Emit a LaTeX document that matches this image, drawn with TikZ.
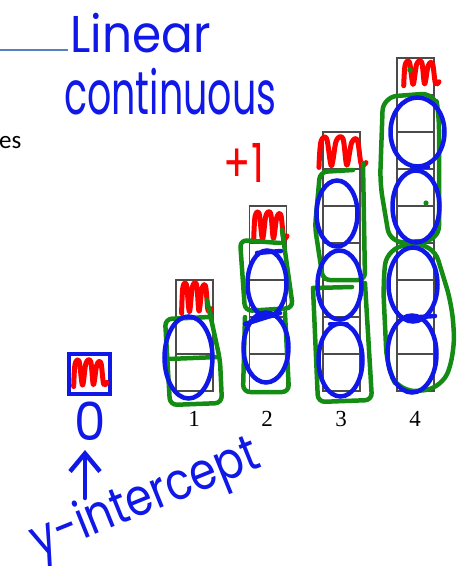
\documentclass[tikz,border=0pt]{standalone}
\usepackage{fontspec}
\setmainfont{Liberation Serif}
\newfontfamily\handfont{Poppins}
\newfontfamily\calibfont{Carlito}
\usetikzlibrary{arrows.meta}
\definecolor{blueink}{RGB}{16,24,232}
\definecolor{greenink}{RGB}{20,140,20}
\definecolor{redink}{RGB}{255,0,0}
\definecolor{rulecol}{RGB}{84,128,190}
\definecolor{cellcol}{RGB}{75,75,75}
\tikzset{
  cell/.style={draw=cellcol, line width=1.2pt},
  blueloop/.style={draw=blueink, line width=4.5pt},
  greenloop/.style={draw=greenink, line width=4.5pt, rounded corners=7pt, line cap=round, line join=round},
  hand/.style={text=blueink, font=\handfont, inner sep=0pt},
  num/.style={font=\fontsize{23}{23}\selectfont, inner sep=0pt},
  pics/scrib/.style={code={
    \draw[redink, line width=5pt, line cap=round, line join=round]
      plot[smooth, tension=0.55] coordinates {(0.02,0.95)(0.06,0.15)(0.18,0.05)(0.28,0.9)(0.38,0.12)(0.52,0.05)(0.6,0.88)(0.7,0.18)(0.82,0.1)(0.9,0.85)(1,0.8)};
  }}
}
\begin{document}
\begin{tikzpicture}[x=1pt,y=-1pt]
\useasboundingbox (0,0) rectangle (457,566);

% top rule and text
\coordinate (rl) at (0,50);
\coordinate (rr) at (68,50);
\draw[rulecol, line width=2pt] (rl) -- (rr);
\node[hand, anchor=base west, yscale=1.1, font=\handfont\fontsize{47}{47}\selectfont] (lin) at (70,52) {Linear};
\node[hand, anchor=base west, yscale=1.6, font=\handfont\fontsize{38}{38}\selectfont] (cont) at (64,114) {continuous};
\node[anchor=base west, inner sep=0pt, font=\calibfont\fontsize{25}{25}\selectfont] (es) at (-1,148) {es};

% cells
\foreach \k/\xl in {1/176,2/249.5,3/323,4/397}{
  \pgfmathtruncatemacro\n{2*\k+1}
  \foreach \i in {1,...,\n}{
    \draw[cell] (\xl,391-37*\i) rectangle ++(37,37);
  }
}
\node[num] (n1) at (194,419) {1};
\node[num] (n2) at (267,419) {2};
\node[num] (n3) at (341,419) {3};
\node[num] (n4) at (415,419) {4};

% red scribbles
\pic[xscale=30, yscale=32] at (181,283) {scrib};
\pic[xscale=34, yscale=30] at (253,212) {scrib};
\pic[xscale=48, yscale=32] at (318,137) {scrib};
\pic[xscale=36, yscale=26] at (403,61) {scrib};
\node[hand, text=redink, yscale=1.35, font=\handfont\fontsize{40}{40}\selectfont] (plus) at (244,163) {+1};

% green groupings
\draw[greenloop] (207,300) -- (220,360) -- (222,403) -- (170,405) -- (165,319) -- (210,317);
\draw[greenloop] (168,359) -- (218,357);

\draw[greenloop] (282,230) -- (293,308) -- (245,311) -- (240,240) -- (280,243);
\draw[greenloop] (245,317) -- (243,392) -- (289,392) -- (285,313);

\draw[greenloop] (363,163) -- (365,280) -- (323,280) -- (315,227) -- (320,172) -- (353,170);
\draw[greenloop] (313,288) -- (352,287);
\draw[greenloop] (365,283) -- (372,400) -- (318,402) -- (313,288);

\draw[greenloop, rounded corners=14pt] (383,97) -- (435,93) -- (439,115) -- (439,240) -- (390,243) -- (380,183) -- cycle;
\draw[greenloop, rounded corners=18pt] (387,247) -- (433,243) -- (452,305) -- (455,350) -- (443,388) -- (400,393) -- (387,367) -- (383,283) -- cycle;
\fill[greenink] (410,70) circle (2.8);
\fill[greenink] (426,203) circle (2.6);

% blue loops
\draw[blueloop] (188.5,357.5) ellipse [x radius=24, y radius=41];
\draw[blueloop] (267,283.5) ellipse [x radius=19.5, y radius=33];
\draw[blueloop] (266,347.5) ellipse [x radius=22.5, y radius=35];
\draw[blueloop, line cap=round] (245,324) -- (280,313);
\draw[blueloop, line cap=round] (257,253) -- (281,251);
\draw[blueloop] (337,213.5) ellipse [x radius=20.5, y radius=33];
\draw[blueloop] (339.5,285) ellipse [x radius=22, y radius=34.5];
\draw[blueloop] (340.5,360) ellipse [x radius=22, y radius=36.5];
\draw[blueloop, line cap=round] (330,324) -- (347,324);
\draw[blueloop] (417.5,132) ellipse [x radius=27, y radius=34.5];
\draw[blueloop] (416,206.5) ellipse [x radius=23.5, y radius=36];
\draw[blueloop] (413,284.5) ellipse [x radius=24.5, y radius=37];
\draw[blueloop] (412,354) ellipse [x radius=24.5, y radius=38.5];
\draw[blueloop, line cap=round] (412,167) -- (428,167);
\draw[blueloop, line cap=round] (405,318) -- (435,316);

% y-intercept group
\node[draw=blueink, line width=4.5pt, minimum width=41pt, minimum height=40pt, inner sep=0pt] (ybox) at (89.5,374) {};
\pic[xscale=34, yscale=28] at (73,360) {scrib};
\node[hand, anchor=south, yscale=1.05, font=\handfont\fontsize{50}{50}\selectfont] (zero) at (90,441) {0};
\coordinate (arrowfoot) at (85,498);
\draw[blueink, line width=4.5pt, line cap=round, -{Straight Barb[length=18pt, width=30pt, line width=4.5pt]}, shorten >=9pt] (arrowfoot) -- (zero.south -| arrowfoot);
\node[hand, rotate=22, yscale=1.2, font=\handfont\fontsize{43}{43}\selectfont] (yint) at (146,500) {y-intercept};
\end{tikzpicture}
\end{document}
